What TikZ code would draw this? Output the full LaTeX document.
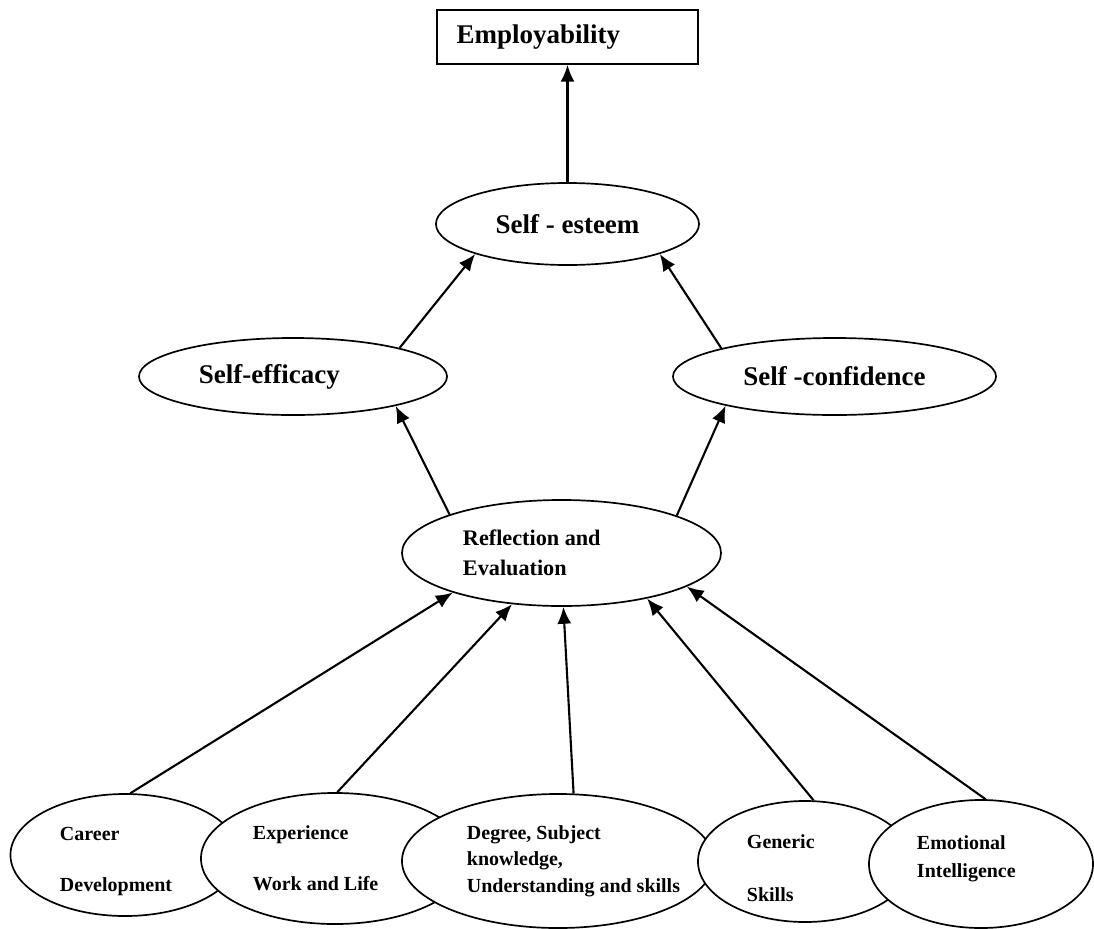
\documentclass[tikz,border=0pt]{standalone}
\usepackage{fontspec}
\setmainfont{Liberation Serif}
\usetikzlibrary{shapes.geometric,arrows.meta}
\tikzset{
  oval/.style={draw,ellipse,fill=white,line width=1.2pt,inner sep=1pt},
  box/.style={draw,rectangle,line width=1.2pt,inner sep=1pt},
  toptext/.style={font=\fontsize{19.2}{23}\selectfont\bfseries},
  lowtext/.style={font=\fontsize{14.2}{#1}\selectfont\bfseries},
  arr/.style={-{Latex[length=12pt,width=10pt]},line width=1.5pt}
}
\begin{document}
\begin{tikzpicture}[x=0.025cm,y=-0.025cm]
\useasboundingbox (0,0) rectangle (1094,929);
% top of the model
\node[box,toptext,minimum width=6.525cm,minimum height=1.35cm,text width=5.54cm,align=flush left] (emp) at (567.5,37) {Employability};
\node[oval,toptext,minimum width=6.575cm,minimum height=2.05cm] (esteem) at (567.5,224) {Self - esteem};
\node[oval,toptext,minimum width=7.7cm,minimum height=1.925cm,text width=4.7cm,align=flush left] (efficacy) at (293,376.5) {Self-efficacy};
\node[oval,toptext,minimum width=8.075cm,minimum height=1.925cm] (confidence) at (834.5,376.5) {Self -confidence};
\node[oval,font=\fontsize{15.8}{21.3}\selectfont\bfseries,minimum width=7.975cm,minimum height=2.65cm,text width=4.925cm,align=flush left] (refl) at (561.5,553) {Reflection and\\Evaluation};
% bottom row, left to right
\node[oval,lowtext=36.3,minimum width=5.725cm,minimum height=3.05cm,text width=3.25cm,align=flush left] (career) at (125,855) {\rule{0pt}{19pt}Career\\Development};
\node[oval,lowtext=36.3,minimum width=6.7cm,minimum height=3.275cm,text width=4.1cm,align=flush left] (exper) at (335,858.5) {Experience\\Work and Life};
\node[oval,lowtext=18.9,minimum width=7.8cm,minimum height=3.35cm,text width=4.55cm,align=flush left] (degree) at (558,861) {Degree, Subject\\knowledge,\\\mbox{Understanding and skills}};
\node[oval,lowtext=37.7,minimum width=5.35cm,minimum height=3.025cm,text width=2.9cm,align=flush left] (generic) at (805,861.5) {\rule{0pt}{20pt}Generic\\Skills};
\node[oval,lowtext=19.9,minimum width=5.6cm,minimum height=3.2cm,text width=3.2cm,align=flush left] (emotional) at (981,864) {Emotional\\Intelligence\rule[-10pt]{0pt}{0pt}};
% arrows
\draw[arr] (esteem.north) -- (emp.south);
\draw[arr] (efficacy.15) -- (esteem.198);
\draw[arr] (confidence.166) -- (esteem.342);
\draw[arr] (refl.161) -- (efficacy.344);
\draw[arr] (refl.18) -- (confidence.195);
\draw[arr] (career.85) -- (refl.200);
\draw[arr] (exper.88) -- (refl.226);
\draw[arr] (degree.77) -- (refl.272);
\draw[arr] (generic.82) -- (refl.332);
\draw[arr] (emotional.86) -- (refl.345);
\end{tikzpicture}
\end{document}
